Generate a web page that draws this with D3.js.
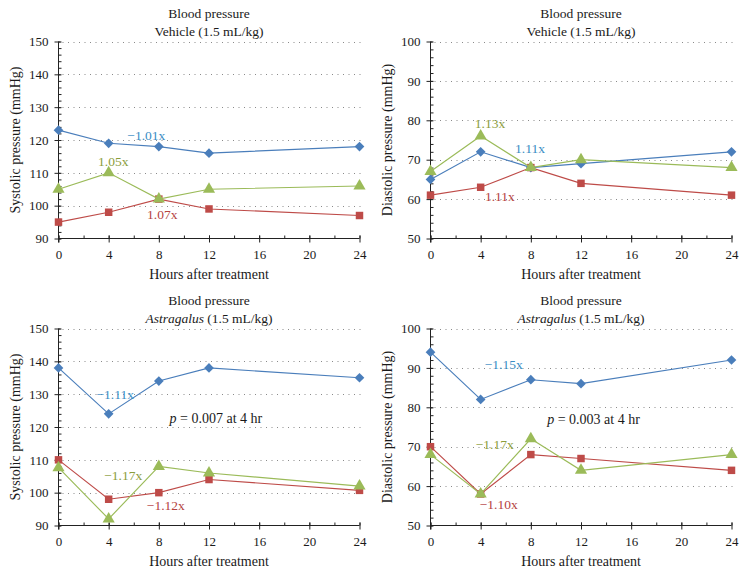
<!DOCTYPE html>
<html><head><meta charset="utf-8">
<script src="https://cdn.jsdelivr.net/npm/d3@7"></script>
<style>
html,body{margin:0;padding:0;background:#fff;}
svg{display:block;font-family:"Liberation Serif","DejaVu Serif",serif;}
</style></head>
<body>
<svg id="chart" width="746" height="573"></svg>
<script>
// ---- data ----
const hours = [0, 4, 8, 12, 24];
const xTicks = [0, 4, 8, 12, 16, 20, 24];
const sysTicks = [90, 100, 110, 120, 130, 140, 150];
const diaTicks = [50, 60, 70, 80, 90, 100];

// Systolic, Vehicle
const sysVehBlue  = [123, 119, 118, 116, 118];
const sysVehRed   = [95, 98, 102, 99, 97];
const sysVehGreen = [105, 110, 102, 105, 106];
// Diastolic, Vehicle
const diaVehBlue  = [65, 72, 68, 69, 72];
const diaVehRed   = [61, 63, 68, 64, 61];
const diaVehGreen = [67, 76, 68, 70, 68];
// Systolic, Astragalus
const sysAstBlue  = [138, 124, 134, 138, 135];
const sysAstRed   = [110, 98, 100, 104, 100.7];
const sysAstGreen = [107.6, 92, 108, 106, 102];
// Diastolic, Astragalus
const diaAstBlue  = [94, 82, 87, 86, 92];
const diaAstRed   = [70, 58, 68, 67, 64];
const diaAstGreen = [68, 58, 72, 64, 68];

// annotations: [text, hour, value, series, rest]
const annSysVeh = [["−1.01x", 7.0, 121.5, "blue"], ["1.05x", 4.37, 113.6, "green"], ["1.07x", 8.27, 97.4, "red"]];
const annDiaVeh = [["1.13x", 4.74, 79.2, "green"], ["1.11x", 7.93, 72.9, "blue"], ["1.11x", 5.53, 60.7, "red"]];
const annSysAst = [["−1.11x", 4.52, 130, "blue"], ["p", 12.55, 122.6, "black", "= 0.007 at 4 hr"], ["−1.17x", 5.16, 105.3, "green"], ["−1.12x", 8.56, 96.3, "red"]];
const annDiaAst = [["−1.15x", 5.84, 90.9, "blue"], ["p", 13.0, 77.0, "black", "= 0.003 at 4 hr"], ["−1.17x", 5.12, 70.6, "green"], ["−1.10x", 5.44, 55.3, "red"]];

// ---- styles ----
const lineColor = {blue: "#4a7ebb", red: "#be4b48", green: "#9bbb59"};
const textColor = {blue: "#3a8dc4", red: "#b5433f", green: "#8b9d3c", black: "#1a1a1a"};
const FONT = "Liberation Serif, DejaVu Serif, serif";

const svg = d3.select("#chart");

const panels = [
  {l: 58.5, r: 359.5, t: 41.5, b: 238.5, domain: [90, 150], ticks: sysTicks, ylab: "Systolic pressure (mmHg)",
   italic: false, series: {blue: sysVehBlue, red: sysVehRed, green: sysVehGreen}, ann: annSysVeh},
  {l: 430.5, r: 731.5, t: 41.5, b: 238.5, domain: [50, 100], ticks: diaTicks, ylab: "Diastolic pressure (mmHg)",
   italic: false, series: {blue: diaVehBlue, red: diaVehRed, green: diaVehGreen}, ann: annDiaVeh},
  {l: 58.5, r: 359.5, t: 328.5, b: 525.5, domain: [90, 150], ticks: sysTicks, ylab: "Systolic pressure (mmHg)",
   italic: true, series: {blue: sysAstBlue, red: sysAstRed, green: sysAstGreen}, ann: annSysAst},
  {l: 430.5, r: 731.5, t: 328.5, b: 525.5, domain: [50, 100], ticks: diaTicks, ylab: "Diastolic pressure (mmHg)",
   italic: true, series: {blue: diaAstBlue, red: diaAstRed, green: diaAstGreen}, ann: annDiaAst}
];

panels.forEach(p => {
  const g = svg.append("g");
  const x = d3.scaleLinear().domain([0, 24]).range([p.l, p.r]);
  const y = d3.scaleLinear().domain(p.domain).range([p.b, p.t]);
  const cx = (p.l + p.r) / 2;

  // titles
  g.append("text").attr("x", cx).attr("y", p.t - 24).attr("text-anchor", "middle")
    .attr("font-size", 13.5).attr("fill", "#1a1a1a").text("Blood pressure");
  const t2 = g.append("text").attr("x", cx).attr("y", p.t - 5.5).attr("text-anchor", "middle")
    .attr("font-size", 13.5).attr("fill", "#1a1a1a");
  if (p.italic) {
    t2.append("tspan").attr("font-style", "italic").text("Astragalus");
    t2.append("tspan").text(" (1.5 mL/kg)");
  } else {
    t2.text("Vehicle (1.5 mL/kg)");
  }

  // gridlines
  g.append("g").selectAll("line").data(p.ticks.slice(1)).join("line")
    .attr("x1", p.l + 4).attr("x2", p.r + 1)
    .attr("y1", d => Math.round(y(d)) + 0.5).attr("y2", d => Math.round(y(d)) + 0.5)
    .attr("stroke", "#8a8a8a").attr("stroke-width", 1).attr("stroke-dasharray", "1,4.5");

  // y axis: minor ticks (inside)
  const yMinor = d3.range(p.domain[0], p.domain[1] + 0.01, 2);
  g.append("g").attr("transform", `translate(${p.l},0)`)
    .call(d3.axisRight(y).tickValues(yMinor).tickSize(3).tickFormat(""))
    .call(s => s.select(".domain").remove())
    .call(s => s.selectAll("line").attr("stroke", "#222"));
  // y axis: major
  g.append("g").attr("transform", `translate(${p.l},0)`)
    .call(d3.axisLeft(y).tickValues(p.ticks).tickSize(4).tickPadding(6).tickFormat(d3.format("d")))
    .call(s => s.select(".domain").attr("d", `M0,${p.t}V${p.b + 4}`).attr("stroke", "#222"))
    .call(s => s.selectAll(".tick line").attr("x2", -4).attr("x1", 2).attr("stroke", "#222"))
    .call(s => s.selectAll("text").attr("font-size", 13).attr("fill", "#1a1a1a").attr("font-family", FONT));

  // x axis: minor (inside)
  g.append("g").attr("transform", `translate(0,${p.b})`)
    .call(d3.axisTop(x).tickValues(d3.range(0, 24.01, 2)).tickSize(3).tickFormat(""))
    .call(s => s.select(".domain").remove())
    .call(s => s.selectAll("line").attr("stroke", "#222"));
  // x axis: major
  g.append("g").attr("transform", `translate(0,${p.b})`)
    .call(d3.axisBottom(x).tickValues(xTicks).tickSize(4).tickPadding(7).tickFormat(d3.format("d")))
    .call(s => s.select(".domain").attr("d", `M${p.l},0H${p.r}`).attr("stroke", "#222"))
    .call(s => s.selectAll(".tick line").attr("y1", -3).attr("stroke", "#222"))
    .call(s => s.selectAll("text").attr("font-size", 13).attr("fill", "#1a1a1a").attr("font-family", FONT));

  // axis titles
  g.append("text").attr("x", cx).attr("y", p.b + 40).attr("text-anchor", "middle")
    .attr("font-size", 14).attr("fill", "#1a1a1a").text("Hours after treatment");
  g.append("text").attr("transform", `translate(${p.l - 39},${(p.t + p.b) / 2}) rotate(-90)`)
    .attr("text-anchor", "middle").attr("font-size", 14).attr("fill", "#1a1a1a").text(p.ylab);

  // series
  const line = d3.line().x((d, i) => x(hours[i])).y(d => y(d));
  const sym = {
    blue: d3.symbol().type(d3.symbolDiamond2).size(60),
    red: d3.symbol().type(d3.symbolSquare).size(56),
    green: d3.symbol().type(d3.symbolTriangle).size(64)
  };
  ["blue", "red", "green"].forEach(k => {
    const vals = p.series[k];
    const sg = g.append("g");
    sg.append("path").datum(vals).attr("d", line).attr("fill", "none")
      .attr("stroke", lineColor[k]).attr("stroke-width", 1.15);
    sg.selectAll("path.m").data(vals).join("path").attr("class", "m")
      .attr("transform", (d, i) => `translate(${x(hours[i])},${y(d)})`)
      .attr("d", sym[k]()).attr("fill", lineColor[k]);
  });

  // annotations
  p.ann.forEach(a => {
    const t = g.append("text").attr("x", x(a[1])).attr("y", y(a[2])).attr("dy", "0.35em")
      .attr("text-anchor", "middle").attr("font-size", a[4] ? 14 : 13.5).attr("fill", textColor[a[3]]);
    if (a[4]) {
      t.append("tspan").attr("font-style", "italic").text(a[0]);
      t.append("tspan").text(" " + a[4]);
    } else {
      t.text(a[0]);
    }
  });
});
</script>
</body></html>
